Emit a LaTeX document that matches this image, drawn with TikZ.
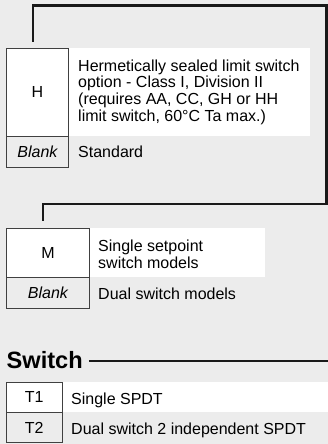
\documentclass[tikz,border=0pt]{standalone}
\usepackage{fontspec}
\setmainfont{Liberation Sans}
\begin{document}
\begin{tikzpicture}[x=1pt,y=-1pt,
  cellbox/.style={draw=black!75, line width=0.9pt, fill=white, inner sep=0pt, anchor=north west, font=\fontsize{16}{16.7}\selectfont},
  graycell/.style={cellbox, fill=none},
  txt/.style={anchor=base west, inner sep=0pt, align=left, font=\fontsize{16}{16.7}\selectfont},
  whitearea/.style={fill=white, draw=none},
  treeline/.style={line width=2.8pt, black!90},
  headline/.style={line width=2pt, black!90}
]
\fill[gray!15] (0,0) rectangle (328,444);
\useasboundingbox (0,0) rectangle (328,444);

% H table
\fill[whitearea] (68,48) rectangle (310,136);
\node[cellbox, minimum width=62pt, minimum height=88pt] (H) at (6,48) {H};
\node[graycell, minimum width=62pt, minimum height=31pt] (Hb) at (6,136) {\itshape Blank};
% base anchor of a multi-line node is the baseline of its last line
\node[txt] (Ht) at (78,121.1) {Hermetically sealed limit switch\\option - Class I, Division II\\(requires AA, CC, GH or HH\\limit switch, 60°C Ta max.)};
\node[txt] (Hs) at (78,157.5) {Standard};

% M table
\fill[whitearea] (89,228.3) rectangle (265,277.3);
\node[cellbox, minimum width=83pt, minimum height=49pt] (M) at (6,228.3) {M};
\node[graycell, minimum width=83pt, minimum height=31pt] (Mb) at (6,277.3) {\itshape Blank};
\node[txt] (Mt) at (98,268.4) {Single setpoint\\switch models};
\node[txt] (Md) at (98,299) {Dual switch models};

% connector tree
\coordinate (c1) at (33,42);
\coordinate (c2) at (43,221);
\draw[treeline] (c1) -- (33,5.3) -- (326.8,5.3) -- (326.8,204) -- (43,204) -- (c2);

% Switch section
\node[anchor=base west, inner sep=0pt, font=\fontsize{23.6}{26}\selectfont\bfseries] (sw) at (6.5,368.3) {Switch};
\coordinate (swend) at (328,360.7);
\draw[headline] ([xshift=6pt]sw.east |- swend) -- (swend);

\fill[whitearea] (61.7,381.7) rectangle (328,411.7);
\node[cellbox, minimum width=55.7pt, minimum height=30pt] (T1) at (6,381.7) {T1};
\node[graycell, minimum width=55.7pt, minimum height=30.6pt] (T2) at (6,411.7) {T2};
\node[txt] (T1t) at (71,404) {Single SPDT};
\node[txt] (T2t) at (71,434.3) {Dual switch 2 independent SPDT};
\end{tikzpicture}
\end{document}
